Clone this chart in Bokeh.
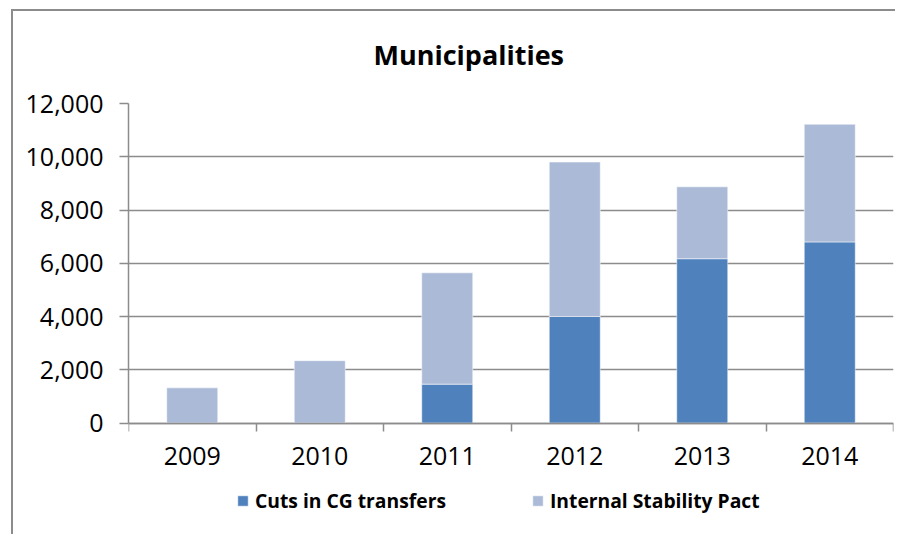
from bokeh.plotting import figure
from bokeh.models import (ColumnDataSource, FixedTicker, NumeralTickFormatter, Range1d,
                          Legend, LegendItem, LinearAxis, InlineStyleSheet)
from bokeh.embed import file_html
from bokeh.resources import INLINE

years = ["2009", "2010", "2011", "2012", "2013", "2014"]
cuts = [0, 0, 1460, 4000, 6170, 6800]
isp = [1320, 2340, 4180, 5800, 2700, 4420]
y_ticks = [0, 2000, 4000, 6000, 8000, 10000, 12000]

DARK = "#4f81bd"
LIGHT = "#aabad7"
GRAY = "#8c8c8c"
FONT = "Open Sans"

xpos = [i + 0.5 for i in range(len(years))]
src = ColumnDataSource(dict(x=xpos, cuts=cuts, isp=isp))

# frame spans from the 12,000 line down to the legend row; the value axis starts at 0
p = figure(width=895, height=534, output_backend="svg", toolbar_location=None,
           x_range=Range1d(0, len(years)), y_range=Range1d(-4000, 12000),
           x_axis_location=None,
           min_border_left=128, min_border_right=2, min_border_top=103, min_border_bottom=5)

rs = p.vbar_stack(["cuts", "isp"], x="x", width=0.4, source=src,
                  color=[DARK, LIGHT], line_color="#ffffff", line_alpha=0.5, line_width=1)

# Title
p.title.text = "Municipalities"
p.title.text_font = FONT
p.title.text_font_style = "bold"
p.title.text_font_size = "27px"
p.title.align = "left"
p.title.offset = 245
p.title.standoff = 62
p.title.text_color = "#000000"

# Category axis sitting on the zero line
xaxis = LinearAxis(fixed_location=0,
                   ticker=FixedTicker(ticks=xpos, minor_ticks=list(range(len(years) + 1))),
                   major_label_overrides={x: y for x, y in zip(xpos, years)})
xaxis.major_tick_out = 0
xaxis.major_tick_in = 0
xaxis.minor_tick_out = 8
xaxis.minor_tick_in = 0
xaxis.minor_tick_line_color = GRAY
xaxis.minor_tick_line_width = 1.5
xaxis.major_label_standoff = 16
p.add_layout(xaxis, "below")

p.yaxis.ticker = FixedTicker(ticks=y_ticks)
p.yaxis.formatter = NumeralTickFormatter(format="0,0")
p.yaxis.bounds = (0, 12000)
p.yaxis.major_tick_out = 9
p.yaxis.major_tick_in = 0
p.yaxis.minor_tick_line_color = None
p.yaxis.major_tick_line_color = GRAY
p.yaxis.major_tick_line_width = 1.5
p.yaxis.major_label_standoff = 16

for ax in (xaxis, p.yaxis[0]):
    ax.axis_line_color = GRAY
    ax.axis_line_width = 1.5
    ax.major_label_text_font = FONT
    ax.major_label_text_font_size = "25px"
    ax.major_label_text_color = "#000000"

p.xgrid.grid_line_color = None
p.ygrid.ticker = FixedTicker(ticks=y_ticks)
p.ygrid.grid_line_color = GRAY
p.ygrid.grid_line_width = 1.5
p.outline_line_color = None

# Legend row under the category labels
legend = Legend(items=[LegendItem(label="Cuts in CG transfers", renderers=[rs[0]]),
                       LegendItem(label="Internal Stability Pact", renderers=[rs[1]])],
                orientation="horizontal", location=(108, 15),
                label_text_font=FONT, label_text_font_style="bold", label_text_font_size="19.3px",
                label_text_color="#000000",
                glyph_width=13, glyph_height=13, label_height=13, label_standoff=6, spacing=85,
                padding=0, margin=0, border_line_color=None, background_fill_alpha=0)
p.add_layout(legend, "center")

# outer chart border (left and top edges visible in the reference)
p.stylesheets = [InlineStyleSheet(css="""
:host { position: relative; overflow: hidden; }
:host::after { content: ""; position: absolute; left: 11px; top: 9px; right: -30px; bottom: -30px;
  border-left: 2px solid #8c8c8c; border-top: 2px solid #8c8c8c;
  border-right: none; border-bottom: none; pointer-events: none; }
""")]

open("out.html", "w").write(file_html(p, INLINE))
